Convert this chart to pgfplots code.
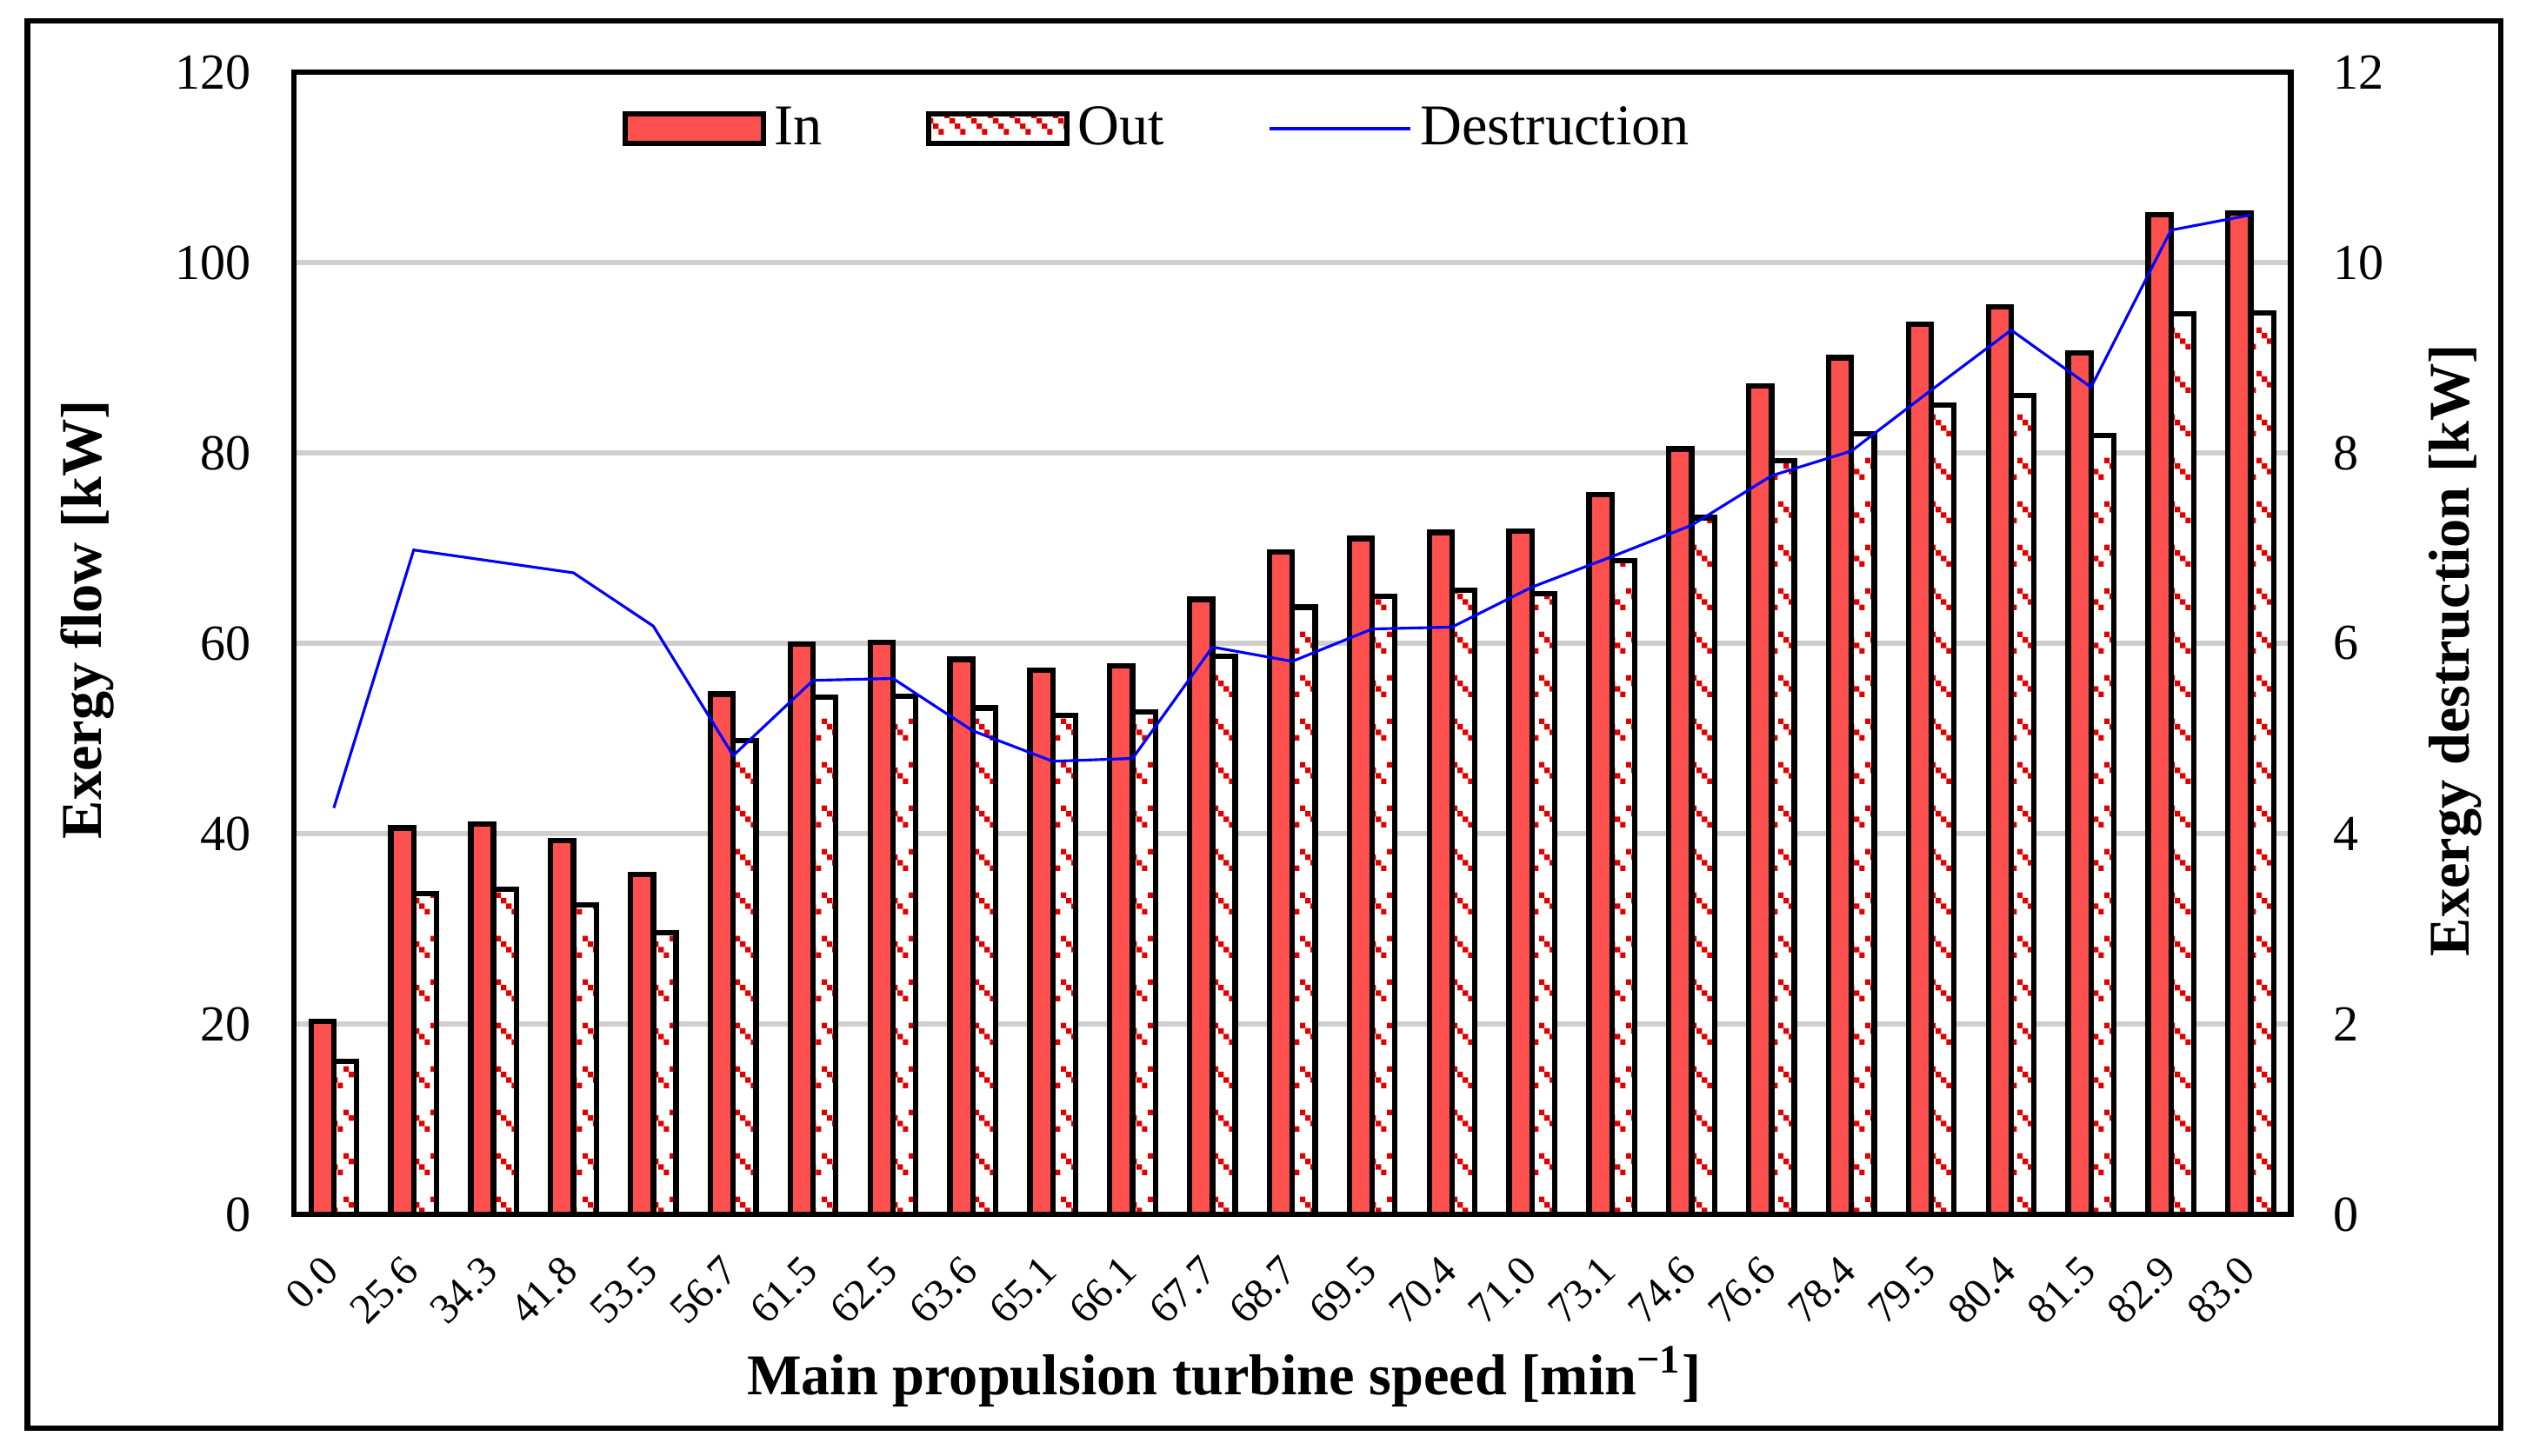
\documentclass[border=0pt]{standalone}
\usepackage{pgfplots}
\pgfplotsset{compat=1.18}
\usepackage{pgfplotstable}
\usepackage{fontspec}
\setmainfont{Liberation Serif}
\usetikzlibrary{patterns.meta}
\definecolor{inred}{RGB}{255,80,80}
\definecolor{dotred}{RGB}{225,0,0}
\definecolor{gridgray}{RGB}{208,206,206}
\tikzdeclarepattern{
  name=reddots,
  type=uncolored,
  bounding box={(0pt,0pt) and (5.1pt,10.3pt)},
  tile size={(5.1pt,10.3pt)},
  code={
    \fill (0pt,8.9pt) rectangle (1.3pt,10.2pt);
    \fill (1.275pt,7.6pt) rectangle (2.575pt,8.9pt);
    \fill (2.55pt,6.3pt) rectangle (3.85pt,7.6pt);
    \fill (3.825pt,5.0pt) rectangle (5.1pt,6.3pt);
  }
}
\pgfplotsset{
  boxlegend/.style={legend image code/.code={\draw[##1] (0pt,-3.5pt) rectangle (32.8pt,3.5pt);}},
  linelegend/.style={legend image code/.code={\draw[##1] (0pt,0pt) -- (33.5pt,0pt);}},
}
\pgfplotstableread{
i in out des
0 20.3 16.1 4.27
1 40.6 33.7 6.98
2 41.0 34.15 6.86
3 39.3 32.5 6.74
4 35.7 29.6 6.18
5 54.65 49.8 4.82
6 59.9 54.35 5.61
7 60.1 54.45 5.63
8 58.3 53.2 5.08
9 57.2 52.45 4.76
10 57.6 52.8 4.79
11 64.6 58.65 5.96
12 69.6 63.8 5.81
13 71.0 64.9 6.15
14 71.65 65.6 6.17
15 71.8 65.2 6.59
16 75.6 68.7 6.91
17 80.4 73.2 7.24
18 87.0 79.2 7.76
19 90.0 82.0 8.02
20 93.5 85.0 8.66
21 95.35 86.0 9.29
22 90.5 81.8 8.69
23 105.0 94.6 10.34
24 105.2 94.7 10.50
}\datatable
\begin{document}
\begin{tikzpicture}
\useasboundingbox (-69.81pt,-57.41pt) rectangle (530.19pt,288.54pt);
\draw[line width=1.4pt] (-63.30pt,-50.81pt) rectangle (524.19pt,283.58pt);
\begin{axis}[
  at={(0pt,0pt)}, anchor=south west,
  scale only axis, width=474.31pt, height=271.40pt,
  xmin=-0.5, xmax=24.5, ymin=0, ymax=120,
  xtick={0,...,24},
  xticklabels={0.0,25.6,34.3,41.8,53.5,56.7,61.5,62.5,63.6,65.1,66.1,67.7,68.7,69.5,70.4,71.0,73.1,74.6,76.6,78.4,79.5,80.4,81.5,82.9,83.0},
  ytick={0,20,...,120},
  ymajorgrids, grid style={gridgray, line width=1.35pt},
  major tick length=0pt,
  axis line style={line width=1.3pt},
  /pgf/number format/assume math mode=true,
  tick label style={font=\fontsize{12}{14}\selectfont},
  yticklabel style={xshift=-6.65pt},
  xticklabel style={xshift=1.75pt, yshift=-9.3pt, rotate=45, anchor=east, font=\fontsize{10.1}{12}\selectfont},
  xlabel={Main propulsion turbine speed [min\textsuperscript{−1}]},
  ylabel={Exergy flow [kW]},
  xlabel style={at={(axis description cs:0.4659,-0.1423)}, anchor=center, font=\fontsize{13.7}{16}\selectfont\bfseries},
  ylabel style={at={(axis description cs:-0.1033,0.5207)}, anchor=center, font=\fontsize{13.7}{16}\selectfont\bfseries},
  legend columns=3,
  legend cell align=left,
  legend style={at={(axis description cs:0.1645,0.9505)}, anchor=west, draw=none, fill=none,
    inner sep=0pt, outer sep=0pt,
    font=\fontsize{13.7}{16}\selectfont,
    /tikz/every even column/.append style={column sep=22.6pt}},
]
\addplot[ybar, bar width=0.285, bar shift=-0.1425, draw=black, line width=1.3pt, fill=inred, boxlegend]
  table[x=i, y=in]{\datatable};
\addlegendentry{In}
\addplot[ybar, bar width=0.285, bar shift=0.1425, draw=black, line width=1.3pt, fill=white,
  postaction={pattern=reddots, pattern color=dotred}, boxlegend]
  table[x=i, y=out]{\datatable};
\addlegendentry{Out}
\addlegendimage{blue, line width=0.65pt, linelegend}
\addlegendentry{Destruction}
\end{axis}
\begin{axis}[
  at={(0pt,0pt)}, anchor=south west,
  scale only axis, width=474.31pt, height=271.40pt,
  xmin=-0.5, xmax=24.5, ymin=0, ymax=12,
  axis y line*=right, axis x line=none,
  ytick={0,2,...,12},
  major tick length=0pt,
  axis line style={line width=1.3pt},
  /pgf/number format/assume math mode=true,
  tick label style={font=\fontsize{12}{14}\selectfont},
  yticklabel style={xshift=6.5pt},
  ylabel={Exergy destruction [kW]},
  ylabel style={at={(axis description cs:1.0825,0.4938)}, anchor=center, font=\fontsize{13.7}{16}\selectfont\bfseries},
]
\addplot[blue, line width=0.65pt, mark=none] table[x=i, y=des]{\datatable};
\end{axis}
\end{tikzpicture}
\end{document}
